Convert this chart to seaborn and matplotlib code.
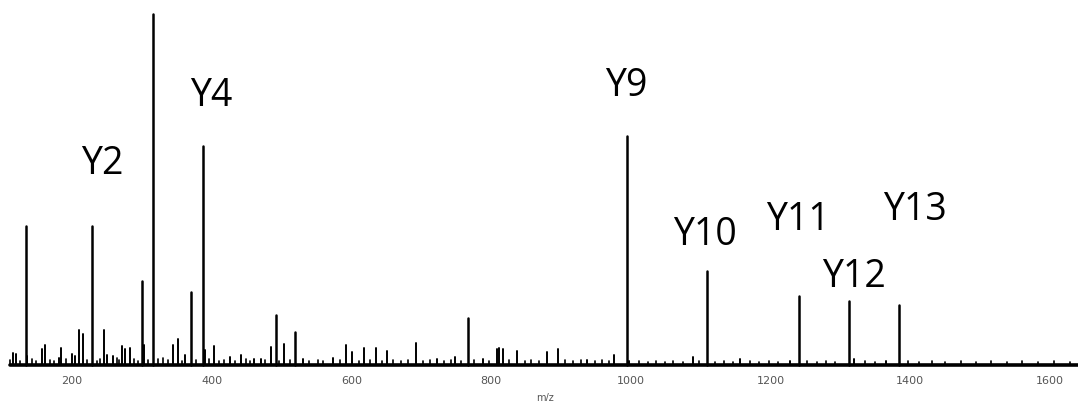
import matplotlib
matplotlib.use("Agg")
import matplotlib.pyplot as plt
import numpy as np
import pandas as pd
import seaborn as sns

# Annotated fragment ions (m/z, relative intensity %)
major_mz = [134, 229, 300, 316, 370, 387, 492, 519, 767, 994, 1109, 1241, 1312, 1384]
major_int = [39.7, 39.7, 24.1, 100.0, 20.7, 62.3, 14.2, 9.6, 13.3, 65.2, 26.9, 19.8, 18.4, 17.0]

# Smaller fragment peaks
minor_mz = [115, 120, 136, 157, 161, 181, 184, 200, 204, 210, 216, 246, 250, 259,
            272, 276, 283, 303, 345, 352, 362, 390, 403, 426, 442, 460, 470, 485,
            503, 530, 573, 592, 601, 618, 635, 651, 692, 722, 748, 788, 808, 811,
            817, 837, 880, 896, 937, 976, 998, 1089, 1156, 1228, 1320, 1365]
minor_int = [3.4, 3.1, 2.5, 4.5, 5.7, 2.0, 4.8, 3.1, 2.5, 9.9, 9.0, 9.9, 2.8, 2.5,
             5.4, 4.5, 4.8, 5.7, 5.7, 7.6, 2.8, 4.2, 5.4, 2.3, 2.8, 1.7, 1.7, 5.1,
             6.0, 1.7, 2.0, 5.7, 3.7, 4.8, 4.8, 4.0, 6.2, 1.7, 2.3, 1.7, 4.5, 4.8,
             4.5, 4.0, 3.7, 4.5, 1.4, 2.8, 1.1, 2.3, 1.7, 1.1, 1.7, 1.1]

# Low-level chemical noise along the baseline
noise_mz = [112, 126, 143, 149, 168, 174, 192, 222, 236, 240, 264, 268, 289, 294,
            309, 323, 330, 338, 357, 377, 396, 411, 418, 433, 449, 455, 477, 497,
            512, 540, 552, 560, 583, 611, 626, 644, 660, 671, 681, 703, 712, 733,
            742, 757, 775, 797, 826, 848, 857, 868, 906, 917, 928, 948, 959, 968,
            1012, 1024, 1036, 1049, 1061, 1074, 1097, 1121, 1134, 1146, 1170, 1183,
            1197, 1210, 1252, 1266, 1279, 1292, 1335, 1350, 1396, 1412, 1431, 1450,
            1472, 1494, 1515, 1538, 1560, 1583, 1606, 1628]
noise_int = [1.4, 1.1, 1.7, 1.2, 1.4, 1.1, 1.7, 1.4, 1.1, 1.7, 2.0, 1.4, 1.7, 1.1,
             1.4, 1.7, 2.0, 1.4, 1.1, 1.4, 1.7, 1.1, 1.4, 1.1, 1.7, 1.1, 1.4, 1.1,
             1.4, 1.1, 1.4, 1.1, 1.4, 1.1, 1.4, 1.1, 1.4, 1.1, 1.4, 1.1, 1.4, 1.1,
             1.4, 1.1, 1.4, 1.1, 1.4, 1.1, 1.4, 1.1, 1.4, 1.1, 1.4, 1.1, 1.4, 1.1,
             1.1, 0.9, 1.1, 0.9, 1.1, 0.9, 1.1, 0.9, 1.1, 0.9, 1.1, 0.9,
             1.1, 0.9, 1.1, 0.9, 1.1, 0.9, 1.1, 0.9, 1.1, 0.9, 1.1, 0.9,
             1.1, 0.9, 1.1, 0.9, 1.1, 0.9, 1.1, 0.9]

# Ion labels and where they are written (label centre in m/z, intensity)
ion_names = ["Y2", "Y4", "Y9", "Y10", "Y11", "Y12", "Y13"]
ion_label_mz = [243, 399, 994, 1106, 1239, 1319, 1407]
ion_label_int = [57.5, 76.8, 79.6, 37.4, 41.6, 25.5, 44.5]

tick_values = [200, 400, 600, 800, 1000, 1200, 1400, 1600]

sns.set_theme(style="white")
plt.rcParams["font.family"] = ["DejaVu Sans"]

# Build a stick table: each peak is a vertical segment from 0 to its intensity
rows = []
pid = 0
for group, mzs, ints in (("noise", noise_mz, noise_int),
                         ("minor", minor_mz, minor_int),
                         ("major", major_mz, major_int)):
    for m, i in zip(mzs, ints):
        rows.append({"mz": m, "intensity": 0.0, "peak": pid, "group": group})
        rows.append({"mz": m, "intensity": i, "peak": pid, "group": group})
        pid += 1
sticks = pd.DataFrame(rows)

fig = plt.figure(figsize=(10.78, 4.02), dpi=100)
ax = fig.add_axes([0.0, 34 / 402, 1.0, 368 / 402])

widths = {"noise": 1.2, "minor": 1.4, "major": 1.8}
for group, lw in widths.items():
    sub = sticks[sticks["group"] == group]
    sns.lineplot(data=sub, x="mz", y="intensity", units="peak", estimator=None,
                 sort=False, color="black", linewidth=lw, ax=ax, legend=False)

# Baseline of the spectrum
base = pd.DataFrame({"mz": [112, 1640], "intensity": [0.0, 0.0]})
sns.lineplot(data=base, x="mz", y="intensity", color="black", linewidth=2.6,
             ax=ax, legend=False)

for name, xm, yi in zip(ion_names, ion_label_mz, ion_label_int):
    ax.text(xm, yi, name, ha="center", va="center", fontsize=27,
            family=["Open Sans", "DejaVu Sans"], color="black")

ax.set_xlim(97, 1640)
ax.set_ylim(-0.5, 104.2)
ax.set_xticks(tick_values)
ax.set_xticklabels([str(v) for v in tick_values], fontsize=8, color="#555555")
ax.tick_params(axis="x", length=0, pad=6)
ax.set_yticks([])
ax.set_ylabel("")
ax.set_xlabel("m/z", fontsize=7, color="#555555")
ax.xaxis.set_label_coords(545 / 1078, -25 / 368)
for s in ax.spines.values():
    s.set_visible(False)

fig.savefig("out.png", dpi=100)
